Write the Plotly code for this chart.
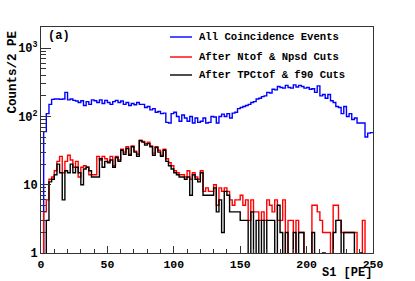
import plotly.graph_objects as go

# 2 PE bins from 0 to 250 (125 bins), left edges
bin_width = 2
n_bins = 125

all_events = [
    0, 60, 110, 150, 178, 180, 180, 178, 180, 225,
    175, 180, 172, 168, 160, 170, 145, 165, 150, 175,
    170, 160, 175, 155, 172, 160, 150, 165, 172, 160,
    168, 150, 160, 145, 155, 148, 160, 150, 150, 135,
    140, 125, 130, 115, 118, 110, 112, 82, 80, 110,
    115, 100, 85, 105, 95, 85, 100, 80, 95, 82,
    85, 95, 80, 82, 100, 98, 80, 100, 108, 100,
    110, 95, 112, 115, 130, 135, 140, 145, 150, 160,
    165, 180, 185, 195, 200, 225, 220, 250, 245, 275,
    265, 260, 285, 265, 260, 290, 270, 285, 275, 260,
    265, 250, 255, 225, 280, 200, 210, 185, 210, 170,
    160, 140, 135, 110, 140, 100, 110, 90, 95, 80,
    80, 80, 50, 57, 58,
]

ntof_npsd = [
    0, 4, 6, 12, 13, 16, 22, 26, 15, 22,
    27, 23, 18, 22, 13, 18, 19, 18, 14, 14,
    14, 26, 23, 26, 24, 22, 26, 19, 26, 23,
    33, 30, 36, 28, 37, 31, 28, 45, 43, 40,
    42, 37, 29, 36, 32, 27, 33, 24, 21, 19,
    16, 15, 14, 14, 13, 16, 12, 15, 13, 12,
    16, 8, 9, 8, 8, 10, 5, 9, 8, 9,
    8, 6, 5, 6, 6, 7, 5, 6, 3, 6,
    4, 4, 3, 4, 3, 6, 5, 4, 6, 3,
    3, 6, 0, 3, 3, 0, 3, 2, 2, 0,
    0, 0, 5, 5, 4, 3, 2, 2, 2, 0,
    5, 5, 3, 2, 2, 2, 2, 2, 2, 0,
    0, 3, 0, 0, 0,
]

tpctof_f90 = [
    0, 0, 3, 11, 12, 14, 20, 15, 6, 16,
    15, 20, 15, 18, 15, 10, 17, 18, 16, 13,
    13, 13, 24, 18, 22, 21, 23, 18, 25, 22,
    32, 28, 34, 27, 36, 30, 26, 44, 42, 38,
    40, 36, 27, 35, 30, 26, 32, 22, 19, 17,
    15, 14, 13, 13, 12, 13, 7, 14, 12, 11,
    15, 7, 7, 7, 7, 9, 4, 6, 2, 8,
    7, 4, 4, 4, 4, 3, 3, 3, 0, 4,
    0, 3, 0, 3, 0, 3, 3, 3, 0, 5,
    2, 0, 2, 0, 0, 2, 0, 2, 2, 0,
    0, 0, 2, 0, 0, 0, 1, 0, 0, 0,
    2, 3, 3, 0, 2, 2, 2, 2, 0, 0,
    1, 0, 0, 0, 0,
]

series_names = ["All Coincidence Events", "After Ntof & Npsd Cuts", "After TPCtof & f90 Cuts"]
series_colors = ["#0000ff", "#ff0000", "#000000"]

y_tick_vals = [1, 10, 100, 1000]
y_tick_text = ["1", "10", "10<sup>2</sup>", "10<sup>3</sup>"]
x_tick_vals = [0, 50, 100, 150, 200, 250]

edges = [i * bin_width for i in range(n_bins + 1)]


def step_xy(vals):
    # empty bins drawn down to below the axis floor (clipped), like ROOT
    v = [c if c > 0 else 0.05 for c in vals]
    xs = [edges[0]] + edges[:n_bins] + [edges[n_bins]]
    ys = [0.05] + v + [v[-1]]
    return xs, ys


fig = go.Figure()
for vals, name, col in zip([all_events, ntof_npsd, tpctof_f90], series_names, series_colors):
    xs, ys = step_xy(vals)
    fig.add_trace(go.Scatter(x=xs, y=ys, mode="lines", line=dict(color=col, width=1.4, shape="hv"),
                             name=name, showlegend=False, hoverinfo="skip"))

FONT = "Liberation Mono"
W, H = 415, 281
L, R, T, B = 41, 42, 27, 28
pw, ph = W - L - R, H - T - B


def px(x):
    return (x - L) / pw


def py(y):
    return (H - B - y) / ph


minor_y = [m * 10 ** d for d in range(0, 4) for m in range(2, 10) if m * 10 ** d < 2100]

fig.update_layout(
    template="none",
    width=W, height=H,
    margin=dict(l=L, r=R, t=T, b=B, autoexpand=False),
    paper_bgcolor="white", plot_bgcolor="white",
    font=dict(family=FONT, size=12, color="black"),
    showlegend=False,
    xaxis=dict(range=[0, 250], tickvals=x_tick_vals, ticks="inside", ticklen=7, tickwidth=1,
               tickcolor="#333", showline=True, linecolor="#333", linewidth=1, mirror=True,
               showgrid=False, zeroline=False, automargin=False, ticklabelstandoff=0,
               tickfont=dict(family=FONT, size=11.5, color="black", weight="bold"),
               minor=dict(dtick=10, tick0=0, ticks="inside", ticklen=4, tickcolor="#333", showgrid=False)),
    yaxis=dict(type="log", range=[0, 3.31], tickvals=y_tick_vals, ticktext=y_tick_text,
               ticks="inside", ticklen=10, tickwidth=1, tickcolor="#333",
               showline=True, linecolor="#333", linewidth=1, mirror=True,
               showgrid=False, zeroline=False, automargin=False,
               tickfont=dict(family=FONT, size=12, color="black", weight="bold"),
               minor=dict(tickvals=minor_y, ticks="inside", ticklen=5, tickcolor="#333", showgrid=False)),
)

ann = []
shapes = []
leg_rows = [37, 57, 75]
for name, col, ry in zip(series_names, series_colors, leg_rows):
    shapes.append(dict(type="line", xref="paper", yref="paper", x0=px(170), x1=px(192),
                       y0=py(ry), y1=py(ry), line=dict(color=col, width=1.4)))
    ann.append(dict(text=name, xref="paper", yref="paper", x=px(197), y=py(ry), xanchor="left",
                    yanchor="middle", showarrow=False,
                    font=dict(family=FONT, size=10.6, color="black", weight="bold")))

ann.append(dict(text="(a)", xref="paper", yref="paper", x=px(46), y=py(36), xanchor="left",
                yanchor="middle", showarrow=False,
                font=dict(family=FONT, size=12, color="black", weight="bold")))
ann.append(dict(text="Counts/2 PE", xref="paper", yref="paper", x=px(3), y=py(29), xanchor="left",
                yanchor="top", textangle=-90, showarrow=False,
                font=dict(family=FONT, size=12.5, color="black", weight="bold")))
ann.append(dict(text="S1 [PE]", xref="paper", yref="paper", x=px(374), y=py(282), xanchor="right",
                yanchor="bottom", showarrow=False,
                font=dict(family=FONT, size=12, color="black", weight="bold")))

fig.update_layout(annotations=ann, shapes=shapes)
fig.write_html("out.html", config={"displayModeBar": False},
               post_script="document.body.style.margin='0';document.body.style.padding='0';")
